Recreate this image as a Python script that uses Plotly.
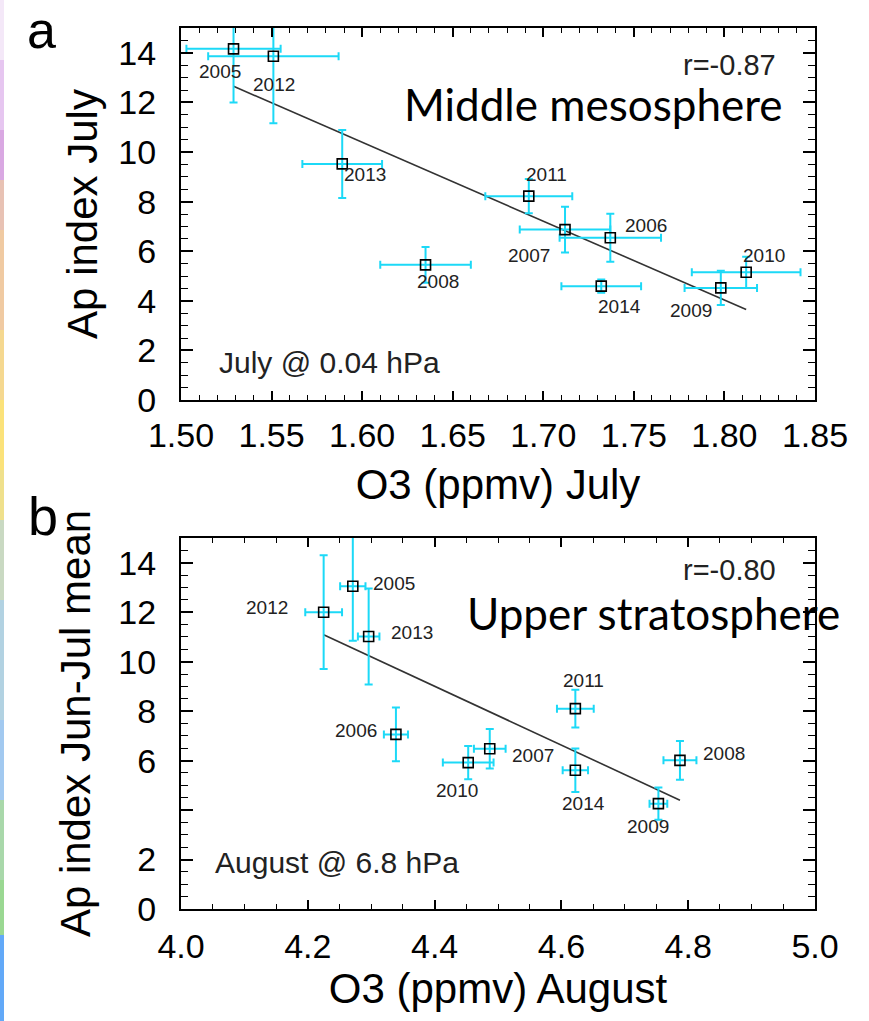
import plotly.graph_objects as go

# ---------------- data ----------------
years = ["2005", "2006", "2007", "2008", "2009", "2010", "2011", "2012", "2013", "2014"]

# panel a: July O3 @ 0.04 hPa vs Ap index July
a_o3 = [1.529, 1.737, 1.712, 1.635, 1.798, 1.812, 1.692, 1.551, 1.589, 1.732]
a_ap = [14.16, 6.54, 6.87, 5.45, 4.52, 5.15, 8.22, 13.86, 9.52, 4.59]
a_o3_err = [0.026, 0.028, 0.025, 0.025, 0.020, 0.030, 0.024, 0.036, 0.022, 0.022]
a_ap_err = [2.16, 0.97, 0.92, 0.72, 0.69, 0.63, 0.69, 2.70, 1.37, 0.27]
a_fit_x = [1.529, 1.812]
a_fit_y = [12.65, 3.65]

# panel b: August O3 @ 6.8 hPa vs Ap index Jun-Jul mean
b_o3 = [4.271, 4.339, 4.487, 4.787, 4.753, 4.453, 4.622, 4.225, 4.296, 4.622]
b_ap = [13.05, 7.06, 6.48, 6.01, 4.26, 5.92, 8.10, 12.00, 11.02, 5.61]
b_o3_err = [0.020, 0.019, 0.025, 0.026, 0.014, 0.040, 0.029, 0.029, 0.017, 0.020]
b_ap_err = [2.20, 1.09, 0.80, 0.78, 0.65, 0.67, 0.76, 2.30, 1.94, 0.88]
b_fit_x = [4.225, 4.787]
b_fit_y = [11.09, 4.40]

a_xticks = [1.50, 1.55, 1.60, 1.65, 1.70, 1.75, 1.80, 1.85]
a_xticktext = ["1.50", "1.55", "1.60", "1.65", "1.70", "1.75", "1.80", "1.85"]
b_xticks = [4.0, 4.2, 4.4, 4.6, 4.8, 5.0]
b_xticktext = ["4.0", "4.2", "4.4", "4.6", "4.8", "5.0"]
a_yticks = [0, 2, 4, 6, 8, 10, 12, 14]
a_yticktext = ["0", "2", "4", "6", "8", "10", "12", "14"]
b_yticks = [0, 2, 4, 6, 8, 10, 12, 14]
b_yticktext = ["0", "2", "", "6", "8", "10", "12", "14"]

# label offsets in pixels (dx right, dy up) -- layout only
a_lab_dx = [-14, 36, -36, 12, -30, 18, 18, 1, 23, 18]
a_lab_dy = [-23, 12, -26, -17, -23, 17, 22, -28, -11, -20]
b_lab_dx = [41, -40, 43, 44, -10, -11, 8, -57, 43, 8]
b_lab_dy = [3, 4, -7, 7, -23, -28, 28, 5, 4, -33]

# ---------------- style ----------------
CYAN = "#1cd9f7"
FONT = "Liberation Sans"

fig = go.Figure()

def add_panel(xs, ys, xe, ye, fx, fy, xa, ya):
    fig.add_trace(go.Scatter(
        x=fx, y=fy, mode="lines", xaxis=xa, yaxis=ya,
        line=dict(color="#333333", width=1.6), showlegend=False, hoverinfo="skip"))
    fig.add_trace(go.Scatter(
        x=xs, y=ys, mode="markers", xaxis=xa, yaxis=ya, text=years,
        error_x=dict(type="data", array=xe, color=CYAN, thickness=2, width=4),
        error_y=dict(type="data", array=ye, color=CYAN, thickness=2, width=4),
        marker=dict(symbol="square-open", size=10, color="black",
                    line=dict(color="black", width=1.6)),
        showlegend=False))

add_panel(a_o3, a_ap, a_o3_err, a_ap_err, a_fit_x, a_fit_y, "x", "y")
add_panel(b_o3, b_ap, b_o3_err, b_ap_err, b_fit_x, b_fit_y, "x2", "y2")

W, H = 869, 1021
axis_common = dict(showline=True, linecolor="black", linewidth=2, mirror="allticks",
                   ticks="inside", tickcolor="black", tickwidth=1.5, showgrid=False,
                   zeroline=False, automargin=False,
                   tickfont=dict(family=FONT, size=34, color="black"))
TFONT = dict(family=FONT, size=42, color="black")

fig.update_layout(
    width=W, height=H, margin=dict(l=0, r=0, t=0, b=0, autoexpand=False),
    paper_bgcolor="white", plot_bgcolor="white",
    xaxis=dict(domain=[181 / W, 815 / W], range=[1.50, 1.85], anchor="y",
               tickvals=a_xticks, ticktext=a_xticktext, ticklen=9, ticklabelstandoff=4,
               minor=dict(dtick=0.01, tick0=1.5, ticks="inside", ticklen=5, tickcolor="black", tickwidth=1.2),
               title=dict(text="O3 (ppmv) July", font=TFONT, standoff=17),
               **axis_common),
    yaxis=dict(domain=[1 - 400 / H, 1 - 28 / H], range=[0, 15], anchor="x",
               tickvals=a_yticks, ticktext=a_yticktext, ticklen=12, ticklabelstandoff=16,
               minor=dict(dtick=0.5, tick0=0, ticks="inside", ticklen=7, tickcolor="black", tickwidth=1.2),
               title=dict(text="Ap index July", font=TFONT, standoff=8),
               **axis_common),
    xaxis2=dict(domain=[181 / W, 815 / W], range=[4.0, 5.0], anchor="y2",
                tickvals=b_xticks, ticktext=b_xticktext, ticklen=9, ticklabelstandoff=6,
                minor=dict(dtick=0.05, tick0=4.0, ticks="inside", ticklen=5, tickcolor="black", tickwidth=1.2),
                title=dict(text="O3 (ppmv) August", font=TFONT, standoff=10),
                **axis_common),
    yaxis2=dict(domain=[1 - 909 / H, 1 - 538 / H], range=[0, 15], anchor="x2",
                tickvals=b_yticks, ticktext=b_yticktext, ticklen=12, ticklabelstandoff=16,
                minor=dict(dtick=0.5, tick0=0, ticks="inside", ticklen=7, tickcolor="black", tickwidth=1.2),
                title=dict(text="Ap index Jun-Jul mean", font=TFONT, standoff=15),
                **axis_common),
)

ann = []
for i, yr in enumerate(years):
    ann.append(dict(x=a_o3[i], y=a_ap[i], xref="x", yref="y", text=yr, showarrow=False,
                    xshift=a_lab_dx[i], yshift=a_lab_dy[i],
                    font=dict(family=FONT, size=19, color="#222")))
    ann.append(dict(x=b_o3[i], y=b_ap[i], xref="x2", yref="y2", text=yr, showarrow=False,
                    xshift=b_lab_dx[i], yshift=b_lab_dy[i],
                    font=dict(family=FONT, size=19, color="#222")))

ann += [
    dict(x=0.9416, y=0.9005, xref="x domain", yref="y domain", text="r=-0.87", showarrow=False,
         xanchor="right", yanchor="middle", font=dict(family=FONT, size=29, color="#222")),
    dict(x=0.6514, y=0.7957, xref="x domain", yref="y domain", text="Middle mesosphere", showarrow=False,
         xanchor="center", yanchor="middle", font=dict(family="Lato", size=44, color="black")),
    dict(x=0.0568, y=0.10, xref="x domain", yref="y domain", text="July @ 0.04 hPa", showarrow=False,
         xanchor="left", yanchor="middle", font=dict(family=FONT, size=30, color="#222")),
    dict(x=0.9416, y=0.915, xref="x2 domain", yref="y2 domain", text="r=-0.80", showarrow=False,
         xanchor="right", yanchor="middle", font=dict(family=FONT, size=29, color="#222")),
    dict(x=0.7445, y=0.798, xref="x2 domain", yref="y2 domain", text="Upper stratosphere", showarrow=False,
         xanchor="center", yanchor="middle", font=dict(family="Lato", size=44, color="black")),
    dict(x=0.0505, y=0.125, xref="x2 domain", yref="y2 domain", text="August @ 6.8 hPa", showarrow=False,
         xanchor="left", yanchor="middle", font=dict(family=FONT, size=30, color="#222")),
    dict(x=41 / W, y=1, xref="paper", yref="paper", text="a", showarrow=False, borderpad=0,
         xanchor="center", yanchor="top", font=dict(family=FONT, size=52, color="black")),
    dict(x=43 / W, y=1 - 516 / H, xref="paper", yref="paper", text="b", showarrow=False,
         xanchor="center", yanchor="middle", font=dict(family=FONT, size=54, color="black")),
]
fig.update_layout(annotations=ann)

# decorative slide stripe at the left edge
stripe = [(0, 60, "#f4e8f8"), (60, 130, "#e6c6f0"), (130, 180, "#d9a8e2"), (180, 230, "#e8c2b4"),
          (230, 330, "#f0caa2"), (330, 400, "#f5d890"), (400, 470, "#fbe27a"), (470, 520, "#efe08c"),
          (520, 600, "#c9d9c2"), (600, 720, "#b2d2e2"), (720, 800, "#a2c9f0"), (800, 880, "#a9d8aa"),
          (880, 935, "#9ad892"), (935, 1021, "#62a9f8")]
shapes = []
for y0, y1, c in stripe:
    shapes.append(dict(type="rect", xref="paper", yref="paper", x0=0, x1=4 / W,
                       y0=1 - y1 / H, y1=1 - y0 / H, fillcolor=c, line=dict(width=0), layer="below"))
fig.update_layout(shapes=shapes)

fig.write_html("out.html", config={"displayModeBar": False},
               post_script="document.body.style.margin='0';document.body.style.overflow='hidden';")
